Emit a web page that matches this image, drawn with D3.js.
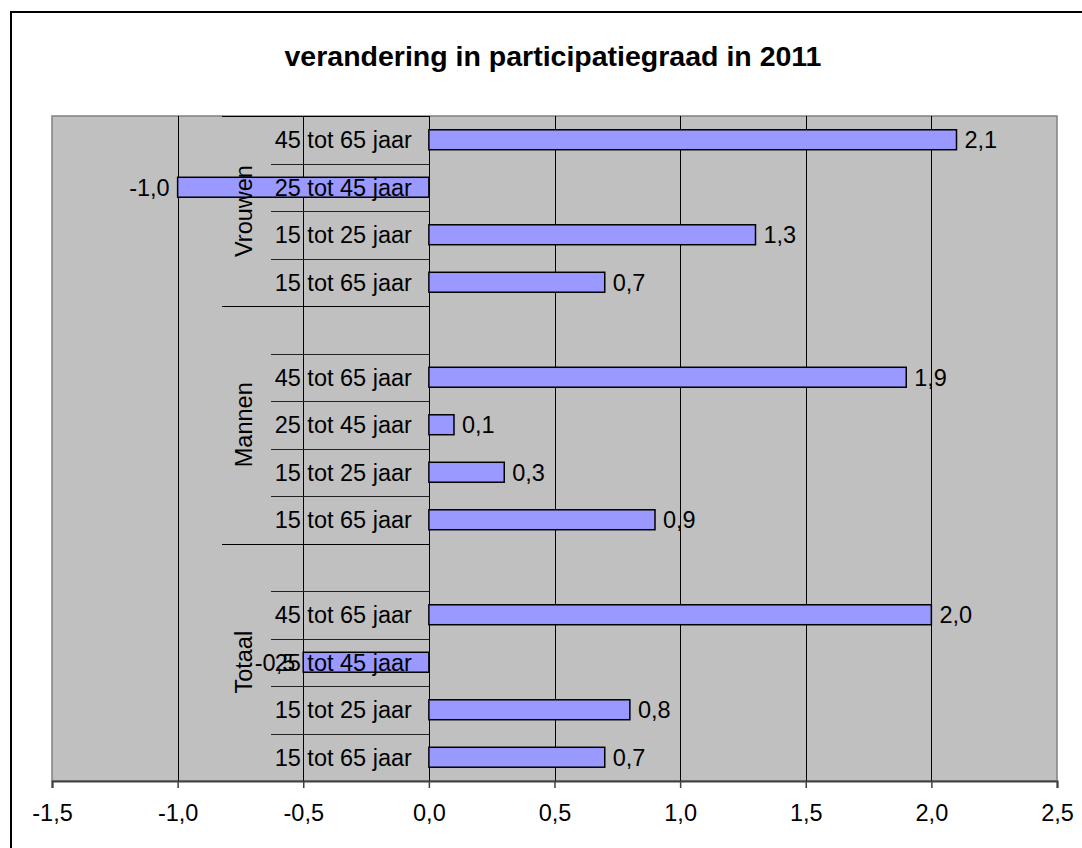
<!DOCTYPE html>
<html>
<head>
<meta charset="utf-8">
<script src="https://cdnjs.cloudflare.com/ajax/libs/d3/7.8.5/d3.min.js"></script>
<style>
  body { margin: 0; background: #fff; }
  svg { display: block; font-family: "Liberation Sans", Arial, sans-serif; }
</style>
</head>
<body>
<svg id="chart" width="1082" height="848"></svg>
<script>
'use strict'

// data
const title = 'verandering in participatiegraad in 2011'
const groups = ['Vrouwen', 'Mannen', 'Totaal']
const ageBands = ['45 tot 65 jaar', '25 tot 45 jaar', '15 tot 25 jaar', '15 tot 65 jaar']
const vrouwen = [2.1, -1.0, 1.3, 0.7]
const mannen = [1.9, 0.1, 0.3, 0.9]
const totaal = [2.0, -0.5, 0.8, 0.7]
const xTicks = [-1.5, -1.0, -0.5, 0.0, 0.5, 1.0, 1.5, 2.0, 2.5]

const seriesByGroup = [vrouwen, mannen, totaal]

// rows top to bottom, an empty row opens every group after the first
let rows = []
groups.forEach((g, gi) => {
  if (gi > 0) rows.push({ key: g + '-gap', group: g, label: '', value: null })
  ageBands.forEach((a, ai) => {
    rows.push({ key: g + '-' + ai, group: g, label: a, value: seriesByGroup[gi][ai] })
  })
})

const fmt = (v) => d3.format('.1f')(v).replace('.', ',').replace('−', '-')

const plot = { left: 52, right: 1057, top: 116, bottom: 781 }
const fontSize = 23.5

const svg = d3.select('#chart')

// outer chart border (right and bottom edges fall outside the picture)
svg.append('rect')
  .attr('x', 11).attr('y', 12)
  .attr('width', 1200).attr('height', 1000)
  .attr('fill', '#fff')
  .attr('stroke', '#000')
  .attr('stroke-width', 2)

svg.append('text')
  .attr('x', 553).attr('y', 66)
  .attr('text-anchor', 'middle')
  .attr('font-size', 28.5)
  .attr('font-weight', 'bold')
  .text(title)

const x = d3.scaleLinear()
  .domain([xTicks[0], xTicks[xTicks.length - 1]])
  .range([plot.left, plot.right])

const y = d3.scaleBand()
  .domain(rows.map((d) => d.key))
  .range([plot.top, plot.bottom])

const barY = d3.scaleBand()
  .domain(rows.map((d) => d.key))
  .range([plot.top, plot.bottom])
  .paddingInner(0.58)
  .paddingOuter(0.29)

// plot background
svg.append('rect')
  .attr('x', plot.left).attr('y', plot.top)
  .attr('width', plot.right - plot.left).attr('height', plot.bottom - plot.top)
  .attr('fill', '#c0c0c0')
  .attr('stroke', '#808080')
  .attr('stroke-width', 1.5)

// vertical gridlines
svg.append('g')
  .selectAll('line')
  .data(xTicks.slice(1, -1))
  .enter().append('line')
  .attr('x1', (d) => Math.round(x(d)) + 0.5).attr('x2', (d) => Math.round(x(d)) + 0.5)
  .attr('y1', plot.top).attr('y2', plot.bottom)
  .attr('stroke', '#000')

// category axis ticks: short between rows, long between groups
const x0 = Math.round(x(0)) + 0.5
let boundaries = []
rows.forEach((r, i) => {
  const long = i === 0 || r.group !== rows[i - 1].group
  boundaries.push({ y: y(r.key), long: long })
})
boundaries.push({ y: plot.bottom, long: true })

svg.append('g')
  .selectAll('line')
  .data(boundaries)
  .enter().append('line')
  .attr('x1', (d) => d.long ? 222 : 271).attr('x2', x0)
  .attr('y1', (d) => Math.round(d.y) + 0.5).attr('y2', (d) => Math.round(d.y) + 0.5)
  .attr('stroke', (d) => d.long ? '#000' : '#222')
  .attr('stroke-width', 1.2)

// bars
const dataRows = rows.filter((r) => r.value !== null)

svg.append('g')
  .selectAll('rect')
  .data(dataRows)
  .enter().append('rect')
  .attr('x', (d) => x(Math.min(0, d.value)))
  .attr('y', (d) => barY(d.key))
  .attr('width', (d) => Math.abs(x(d.value) - x(0)))
  .attr('height', barY.bandwidth())
  .attr('fill', '#9999ff')
  .attr('stroke', '#000')
  .attr('stroke-width', 1.5)

// category labels
svg.append('g')
  .selectAll('text')
  .data(dataRows)
  .enter().append('text')
  .attr('x', x(0) - 17)
  .attr('y', (d) => y(d.key) + y.bandwidth() / 2)
  .attr('dy', '0.36em')
  .attr('text-anchor', 'end')
  .attr('font-size', fontSize)
  .text((d) => d.label)

// group labels, rotated
svg.append('g')
  .selectAll('text')
  .data(groups)
  .enter().append('text')
  .attr('transform', (g) => {
    const gr = rows.filter((r) => r.group === g)
    const cy = (y(gr[0].key) + y(gr[gr.length - 1].key) + y.bandwidth()) / 2
    return 'translate(252,' + cy + ') rotate(-90)'
  })
  .attr('text-anchor', 'middle')
  .attr('font-size', fontSize)
  .text((g) => g)

// value labels
svg.append('g')
  .selectAll('text')
  .data(dataRows)
  .enter().append('text')
  .attr('x', (d) => d.value < 0 ? x(d.value) - 8 : x(d.value) + 8)
  .attr('y', (d) => y(d.key) + y.bandwidth() / 2)
  .attr('dy', '0.36em')
  .attr('text-anchor', (d) => d.value < 0 ? 'end' : 'start')
  .attr('font-size', fontSize)
  .text((d) => fmt(d.value))

// value axis at the bottom
const xAxis = d3.axisBottom(x)
  .tickValues(xTicks)
  .tickSize(7)
  .tickPadding(16)
  .tickFormat(fmt)

const axisG = svg.append('g')
  .attr('transform', 'translate(0,' + plot.bottom + ')')
  .call(xAxis)

axisG.select('.domain').attr('stroke', '#404040').attr('stroke-width', 2)
axisG.selectAll('.tick line').attr('stroke', '#404040').attr('stroke-width', 1.5)
axisG.selectAll('.tick text')
  .attr('font-size', fontSize)
  .attr('font-family', '"Liberation Sans", Arial, sans-serif')
  .attr('fill', '#000')
</script>
</body>
</html>
